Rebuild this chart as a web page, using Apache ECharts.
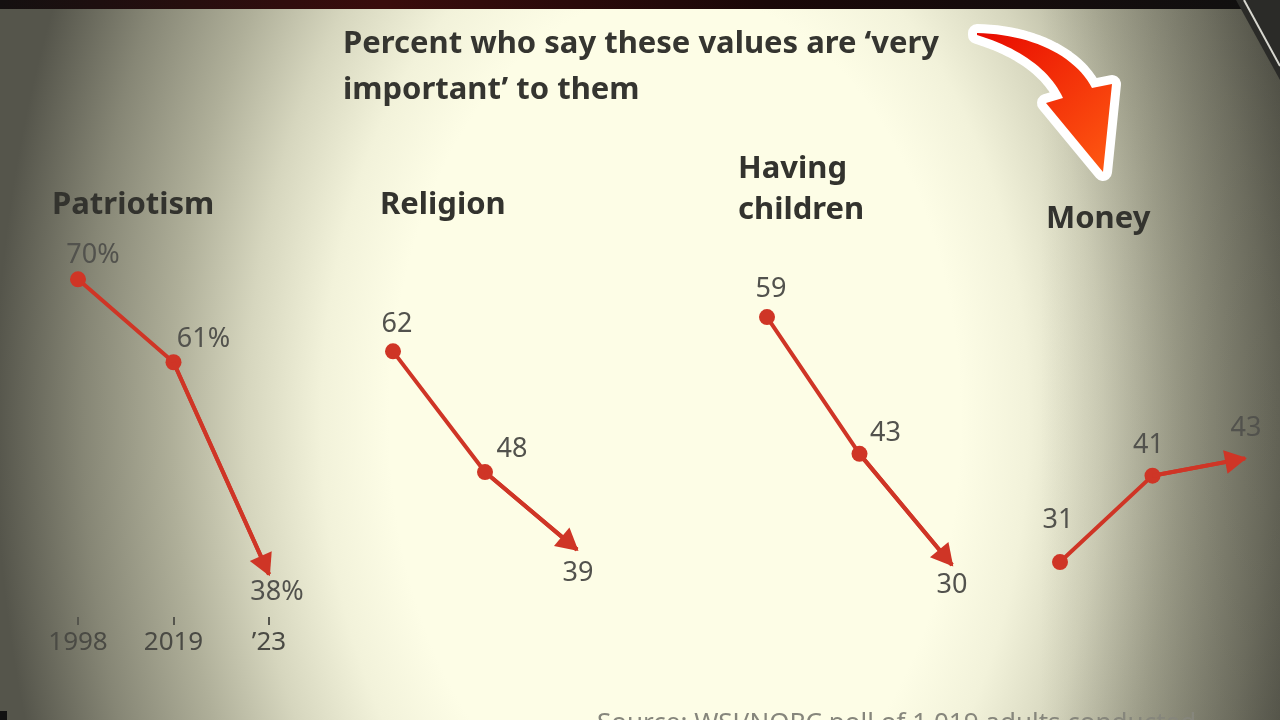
<!DOCTYPE html>
<html><head><meta charset="utf-8">
<script src="https://cdn.jsdelivr.net/npm/echarts@6/dist/echarts.min.js"></script>
<style>html,body{margin:0;padding:0;background:#fdfde6;overflow:hidden}#chart{width:1280px;height:720px}</style>
</head><body><div id="chart"></div>
<script>
// ---- data ----
const years = ['1998', '2019', '\u201923'];
const panelNames = ['Patriotism', 'Religion', 'Having\nchildren', 'Money'];
const patriotism = [70, 61, 38];
const religion = [62, 48, 39];
const havingChildren = [59, 43, 30];
const money = [31, 41, 43];
const valueSuffix = ['%', '', '', ''];
const titleLines = ['Percent who say these values are \u2018very', 'important\u2019 to them'];
const sourceText = 'Source: WSJ/NORC poll of 1,019 adults conducted';

// ---- layout / style (pixels), separate from data ----
const RED = '#cf3526';
const PANEL_LAYOUT = [
  {left: 78,   width: 191, top: 233.2, height: 414.9, yMin: 30, yMax: 75, headX: 52,   headY: 205},
  {left: 393,  width: 184, top: 196.2, height: 517.2, yMin: 20, yMax: 80, headX: 380,  headY: 205},
  {left: 767,  width: 185, top: 137.5, height: 513.0, yMin: 20, yMax: 80, headX: 738,  headY: 190},
  {left: 1060, width: 185, top: 138.7, height: 518.4, yMin: 20, yMax: 80, headX: 1046, headY: 219}
];
const LABEL_OFFSETS = [
  [[15, -24], [30, -23], [8, 18]],
  [[4, -27], [27, -23], [1, 24]],
  [[4, -28], [26, -21], [0, 20]],
  [[-2, -42], [-4, -30], [1, -30]]
];
const AXIS_Y = 617;

const seriesValues = [patriotism, religion, havingChildren, money];

const chart = echarts.init(document.getElementById('chart'), null, {renderer: 'canvas'});

const grids = PANEL_LAYOUT.map(p => ({
  left: p.left, top: p.top, width: p.width, height: p.height,
  containLabel: false, outerBoundsMode: 'none'
}));

const xAxes = PANEL_LAYOUT.map((p, i) => ({
  type: 'category', gridIndex: i, data: years, boundaryGap: false,
  show: i === 0,
  offset: AXIS_Y - (p.top + p.height),
  axisLine: {show: false, onZero: false},
  axisTick: {show: true, length: 8, lineStyle: {color: '#55554d', width: 2}},
  axisLabel: {show: true, margin: 13, fontSize: 26, color: '#4a4a44',
    fontFamily: '"Noto Sans", sans-serif'},
  splitLine: {show: false}
}));

const yAxes = PANEL_LAYOUT.map((p, i) => ({
  type: 'value', gridIndex: i, min: p.yMin, max: p.yMax, show: false, splitLine: {show: false}
}));

const series = seriesValues.map((vals, p) => ({
  type: 'line', xAxisIndex: p, yAxisIndex: p, clip: false, z: 3,
  lineStyle: {color: RED, width: 4},
  itemStyle: {color: RED},
  emphasis: {disabled: true},
  data: vals.map((v, i) => ({
    value: v,
    symbol: 'circle',
    symbolSize: i < 2 ? 16 : 1,
    label: {show: true, position: 'inside', offset: LABEL_OFFSETS[p][i]}
  })),
  label: {
    formatter: (d) => d.value + valueSuffix[p],
    color: '#52524d', fontSize: 27, fontFamily: '"Noto Sans", sans-serif',
    textBorderWidth: 0
  },
  markLine: {
    silent: true, animation: false,
    label: {show: false},
    emphasis: {disabled: true},
    lineStyle: {color: RED, width: 4, type: 'solid'},
    data: [[
      {coord: [years[1], vals[1]], symbol: 'none'},
      {coord: [years[2], vals[2]], symbol: 'triangle', symbolSize: [24, 22], symbolOffset: [0, 9]}
    ]]
  }
}));

const bgGradient = new echarts.graphic.RadialGradient(0, 0, 680, [
  {offset: 0, color: '#fdfde6'},
  {offset: 0.42, color: '#fdfde6'},
  {offset: 0.52, color: '#f2f2da'},
  {offset: 0.63, color: '#d6d6be'},
  {offset: 0.74, color: '#afaf99'},
  {offset: 0.87, color: '#868675'},
  {offset: 1, color: '#55554b'}
], true);

const arrowGradient = new echarts.graphic.LinearGradient(0, 0, 1, 1, [
  {offset: 0, color: '#e80a00'},
  {offset: 1, color: '#ff5a12'}
]);

// decorative callout arrow outline (sampled cubic curves)
function cubic(p0, p1, p2, p3, n) {
  const out = [];
  for (let k = 0; k <= n; k++) {
    const t = k / n, u = 1 - t;
    out.push([
      u*u*u*p0[0] + 3*u*u*t*p1[0] + 3*u*t*t*p2[0] + t*t*t*p3[0],
      u*u*u*p0[1] + 3*u*u*t*p1[1] + 3*u*t*t*p2[1] + t*t*t*p3[1]
    ]);
  }
  return out;
}
const arrowPts = []
  .concat(cubic([977, 33], [1030, 34], [1075, 55], [1092, 88], 24))
  .concat([[1112, 84], [1103, 172], [1046, 103], [1063, 98]])
  .concat(cubic([1063, 98], [1050, 70], [1020, 48], [977, 35], 24).slice(1));

const headFont = 'bold 31px "Noto Sans", sans-serif';
const CX = 675, CY = 420, SY = 1.5;

const graphics = [
  {type: 'rect', z: -100, x: CX, y: CY, scaleY: SY, silent: true,
    shape: {x: -CX, y: -CY / SY, width: 1280, height: 720 / SY},
    style: {fill: bgGradient}},
  {type: 'rect', z: -95, silent: true, shape: {x: 1040, y: 0, width: 240, height: 720},
    style: {fill: new echarts.graphic.LinearGradient(0, 0, 1, 0, [
      {offset: 0, color: 'rgba(30,30,24,0)'}, {offset: 1, color: 'rgba(30,30,24,0.3)'}])}},
  {type: 'rect', z: -90, silent: true, shape: {x: 0, y: 0, width: 1280, height: 9},
    style: {fill: new echarts.graphic.LinearGradient(0, 0, 1, 0, [
      {offset: 0, color: '#141010'}, {offset: 0.3, color: '#3a0c0c'}, {offset: 0.6, color: '#1a0808'}, {offset: 1, color: '#101010'}])}},
  {type: 'polygon', z: -90, silent: true, shape: {points: [[1236, 0], [1280, 0], [1280, 80]]}, style: {fill: '#2b2b28'}},
  {type: 'line', z: -89, silent: true, shape: {x1: 1244, y1: 0, x2: 1280, y2: 66}, style: {stroke: '#d8d8d0', lineWidth: 2}},
  {type: 'rect', z: -90, silent: true, shape: {x: 0, y: 711, width: 7, height: 9}, style: {fill: '#111'}},
  {type: 'text', z: 10, silent: true, style: {text: titleLines[0], x: 343, y: 44, font: 'bold 31px "Noto Sans", sans-serif', fill: '#353530', verticalAlign: 'middle', textVerticalAlign: 'middle'}},
  {type: 'text', z: 10, silent: true, style: {text: titleLines[1], x: 343, y: 90, font: 'bold 31px "Noto Sans", sans-serif', fill: '#353530', verticalAlign: 'middle', textVerticalAlign: 'middle'}},
  {type: 'text', z: 10, silent: true, style: {text: sourceText, x: 597, y: 711, font: '26px "Noto Sans", sans-serif', fill: '#86867c', verticalAlign: 'top', textVerticalAlign: 'top'}},
  {type: 'polygon', z: 20, silent: true, shape: {points: arrowPts}, style: {fill: '#ffffff', stroke: '#ffffff', lineWidth: 18, lineJoin: 'round'}},
  {type: 'polygon', z: 21, silent: true, shape: {points: arrowPts}, style: {fill: arrowGradient}}
];
PANEL_LAYOUT.forEach((p, i) => {
  graphics.push({type: 'text', z: 10, silent: true, style: {
    text: panelNames[i], x: p.headX, y: p.headY, font: headFont, fill: '#33332e',
    lineHeight: 41, verticalAlign: 'middle', textVerticalAlign: 'middle'}});
});

chart.setOption({
  animation: false,
  backgroundColor: '#fdfde6',
  grid: grids,
  xAxis: xAxes,
  yAxis: yAxes,
  series: series,
  graphic: {elements: graphics}
});
</script>
</body></html>
